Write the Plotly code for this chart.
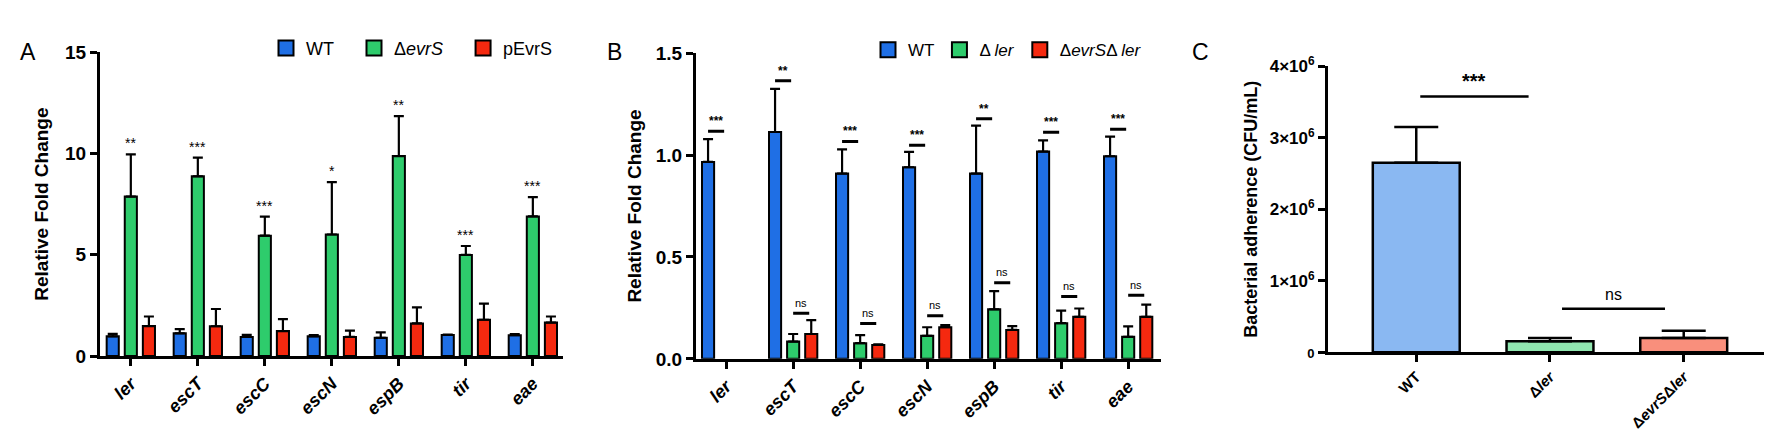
import plotly.graph_objects as go

W, H = 1772, 430

# ---- data ----
genes = ["ler", "escT", "escC", "escN", "espB", "tir", "eae"]

# panel A
a_wt = [0.97, 1.12, 0.94, 0.97, 0.90, 1.04, 1.03]
a_wt_err = [1.09, 1.33, 1.04, 1.03, 1.17, 1.06, 1.08]
a_evrs = [7.87, 8.87, 5.94, 6.00, 9.87, 4.99, 6.89]
a_evrs_err = [9.95, 9.79, 6.88, 8.58, 11.84, 5.43, 7.84]
a_pevrs = [1.48, 1.47, 1.23, 0.94, 1.61, 1.79, 1.65]
a_pevrs_err = [1.95, 2.32, 1.82, 1.25, 2.40, 2.59, 1.95]
a_sig = ["**", "***", "***", "*", "**", "***", "***"]

# panel B
b_wt = [0.966, 1.113, 0.909, 0.940, 0.909, 1.017, 0.994]
b_wt_err = [1.078, 1.325, 1.028, 1.016, 1.144, 1.072, 1.090]
b_ler = [None, 0.085, 0.077, 0.113, 0.243, 0.175, 0.108]
b_ler_err = [None, 0.122, 0.116, 0.155, 0.332, 0.237, 0.159]
b_dbl = [None, 0.122, 0.068, 0.155, 0.142, 0.206, 0.206]
b_dbl_err = [None, 0.190, 0.071, 0.165, 0.161, 0.247, 0.266]
b_sig = ["***", "**", "***", "***", "**", "***", "***"]
b_sig_y = [1.117, 1.365, 1.067, 1.048, 1.178, 1.112, 1.127]
b_ns_y = [None, 0.224, 0.173, 0.212, 0.374, 0.306, 0.312]

# panel C
c_groups = ["WT", "Δ<i>ler</i>", "Δ<i>evrS</i>Δ<i>ler</i>"]
c_vals = [2.65e6, 0.155e6, 0.20e6]
c_err = [3.15e6, 0.20e6, 0.30e6]
c_ticks = [0, 1e6, 2e6, 3e6, 4e6]
c_ticktext = ["<span style='font-size:13px'>0</span>", "1×10<sup>6</sup>", "2×10<sup>6</sup>",
              "3×10<sup>6</sup>", "4×10<sup>6</sup>"]

legend_a = ["WT", "Δ<i>evrS</i>", "pEvrS"]
legend_b = ["WT", "Δ <i>ler</i>", "Δ<i>evrS</i>Δ <i>ler</i>"]

BLUE, GREEN, RED = "#1f6fe5", "#2ecc6c", "#f5290f"
C_COLORS = ["#8ab8f2", "#90e6b0", "#f98f7c"]
FONT = "Liberation Sans, Arial, sans-serif"


def px_x(p):
    return p / W


def px_y(p):
    return 1 - p / H


def up_err(vals, tops):
    return [None if v is None else t - v for v, t in zip(vals, tops)]


fig = go.Figure()


def add_bar(x, y, err, color, xa, ya, cap=5):
    fig.add_trace(
        go.Bar(
            x=x, y=y,
            marker=dict(color=color, line=dict(color="black", width=2)),
            error_y=dict(type="data", array=up_err(y, err), arrayminus=[0] * len(y),
                         symmetric=False, color="black", thickness=2.2, width=cap),
            xaxis=xa, yaxis=ya, showlegend=False,
        )
    )


def add_key(name, color, xa, ya, legend):
    # legend-only square swatch
    fig.add_trace(
        go.Scatter(
            x=[None], y=[None], mode="markers", name=name,
            marker=dict(symbol="square", size=15, color=color, line=dict(color="black", width=2)),
            xaxis=xa, yaxis=ya, legend=legend,
        )
    )


# panel A
add_bar(genes, a_wt, a_wt_err, BLUE, "x", "y")
add_bar(genes, a_evrs, a_evrs_err, GREEN, "x", "y")
add_bar(genes, a_pevrs, a_pevrs_err, RED, "x", "y")
for i, (nm, col) in enumerate(zip(legend_a, [BLUE, GREEN, RED])):
    add_key(nm + ("\u00a0" * 3 if i < 2 else ""), col, "x", "y", "legend")

# panel B
add_bar(genes, b_wt, b_wt_err, BLUE, "x2", "y2")
add_bar(genes, b_ler, b_ler_err, GREEN, "x2", "y2")
add_bar(genes, b_dbl, b_dbl_err, RED, "x2", "y2")
for nm, col in zip(legend_b, [BLUE, GREEN, RED]):
    add_key(nm, col, "x2", "y2", "legend2")

# panel C
fig.add_trace(
    go.Bar(
        x=c_groups, y=c_vals, width=0.65,
        marker=dict(color=C_COLORS, line=dict(color="black", width=2.5)),
        error_y=dict(type="data", array=up_err(c_vals, c_err), arrayminus=[0] * 3,
                     symmetric=False, color="black", thickness=2.5, width=22),
        xaxis="x3", yaxis="y3", showlegend=False,
    )
)

shapes = []
annotations = []

# stars over panel A
for i, (s, t) in enumerate(zip(a_sig, a_evrs_err)):
    annotations.append(dict(x=i, y=t + 0.05, xref="x", yref="y", text=s, showarrow=False,
                            yanchor="bottom", font=dict(size=14, color="black", family=FONT)))

# lines and stars over panel B
for i in range(len(genes)):
    y = b_sig_y[i]
    shapes.append(dict(type="line", xref="x2", yref="y2", x0=i - 0.27, x1=i - 0.03, y0=y, y1=y,
                       line=dict(color="black", width=3)))
    annotations.append(dict(x=i - 0.15, y=y + 0.005, xref="x2", yref="y2", text="<b>" + b_sig[i] + "</b>",
                            showarrow=False, yanchor="bottom", font=dict(size=12, color="black", family=FONT)))
    if b_ns_y[i] is not None:
        y = b_ns_y[i]
        shapes.append(dict(type="line", xref="x2", yref="y2", x0=i, x1=i + 0.24, y0=y, y1=y,
                           line=dict(color="black", width=3)))
        annotations.append(dict(x=i + 0.12, y=y + 0.012, xref="x2", yref="y2", text="ns",
                                showarrow=False, yanchor="bottom", font=dict(size=11, color="black", family=FONT)))

# panel C significance
shapes.append(dict(type="line", xref="x3", yref="y3", x0=0.03, x1=0.84, y0=3.58e6, y1=3.58e6,
                   line=dict(color="black", width=2.5)))
annotations.append(dict(x=0.435, y=3.62e6, xref="x3", yref="y3", text="<b>***</b>", showarrow=False,
                        yanchor="bottom", font=dict(size=20, color="black", family=FONT)))
shapes.append(dict(type="line", xref="x3", yref="y3", x0=1.09, x1=1.86, y0=0.61e6, y1=0.61e6,
                   line=dict(color="black", width=2.5)))
annotations.append(dict(x=1.475, y=0.66e6, xref="x3", yref="y3", text="ns", showarrow=False,
                        yanchor="bottom", font=dict(size=16, color="black", family=FONT)))

# panel letters
for txt, xp in [("A", 10), ("B", 606), ("C", 1203)]:
    annotations.append(dict(x=px_x(xp), y=px_y(18), xref="paper", yref="paper", text=txt,
                            showarrow=False, font=dict(size=23, color="black", family=FONT)))

axis_common = dict(showline=True, linecolor="black", linewidth=3, ticks="outside",
                   tickwidth=3, ticklen=7, tickcolor="black", showgrid=False, zeroline=False)
gene_ticks = ["<i><b>%s</b></i>" % g for g in genes]

fig.update_layout(
    width=W, height=H,
    margin=dict(l=0, r=0, t=0, b=0),
    plot_bgcolor="white", paper_bgcolor="white",
    font=dict(family=FONT, color="black"),
    barmode="group", bargap=0.19, bargroupgap=0.33,
    xaxis=dict(domain=[px_x(92), px_x(555)], range=[-0.46, 6.45], anchor="y",
               tickvals=list(range(7)), ticktext=gene_ticks, tickangle=-45,
               tickfont=dict(size=18), **axis_common),
    yaxis=dict(domain=[px_y(355), px_y(34)], range=[0, 15], anchor="x",
               tickvals=[0, 5, 10, 15], tickfont=dict(size=19, weight="bold"),
               title=dict(text="<b>Relative Fold Change</b>", font=dict(size=19), standoff=12),
               **axis_common),
    xaxis2=dict(domain=[px_x(688), px_x(1153)], range=[-0.45, 6.49], anchor="y2",
                tickvals=list(range(7)), ticktext=gene_ticks, tickangle=-45,
                tickfont=dict(size=18), **axis_common),
    yaxis2=dict(domain=[px_y(358), px_y(35)], range=[0, 1.5], anchor="x2",
                tickvals=[0, 0.5, 1.0, 1.5], tickformat=".1f", tickfont=dict(size=19, weight="bold"),
                title=dict(text="<b>Relative Fold Change</b>", font=dict(size=19), standoff=10),
                **axis_common),
    xaxis3=dict(domain=[px_x(1320), 1.0], range=[-0.66, 2.72], anchor="y3",
                tickvals=[0, 1, 2], ticktext=["<b>%s</b>" % g for g in c_groups], tickangle=-45,
                tickfont=dict(size=15), **axis_common),
    yaxis3=dict(domain=[px_y(351), px_y(49)], range=[0, 4e6], anchor="x3",
                tickvals=c_ticks, ticktext=c_ticktext, tickfont=dict(size=17, weight="bold"),
                title=dict(text="<b>Bacterial adherence (CFU/mL)</b>", font=dict(size=18), standoff=8),
                **axis_common),
    legend=dict(orientation="h", x=px_x(258), y=px_y(30), xanchor="left", yanchor="middle",
                font=dict(size=18), bgcolor="rgba(0,0,0,0)", itemclick=False, itemsizing="trace"),
    legend2=dict(orientation="h", x=px_x(860), y=px_y(32), xanchor="left", yanchor="middle",
                 font=dict(size=17), bgcolor="rgba(0,0,0,0)", itemclick=False, itemsizing="trace"),
    shapes=shapes,
    annotations=annotations,
)

fig.write_html("out.html")
